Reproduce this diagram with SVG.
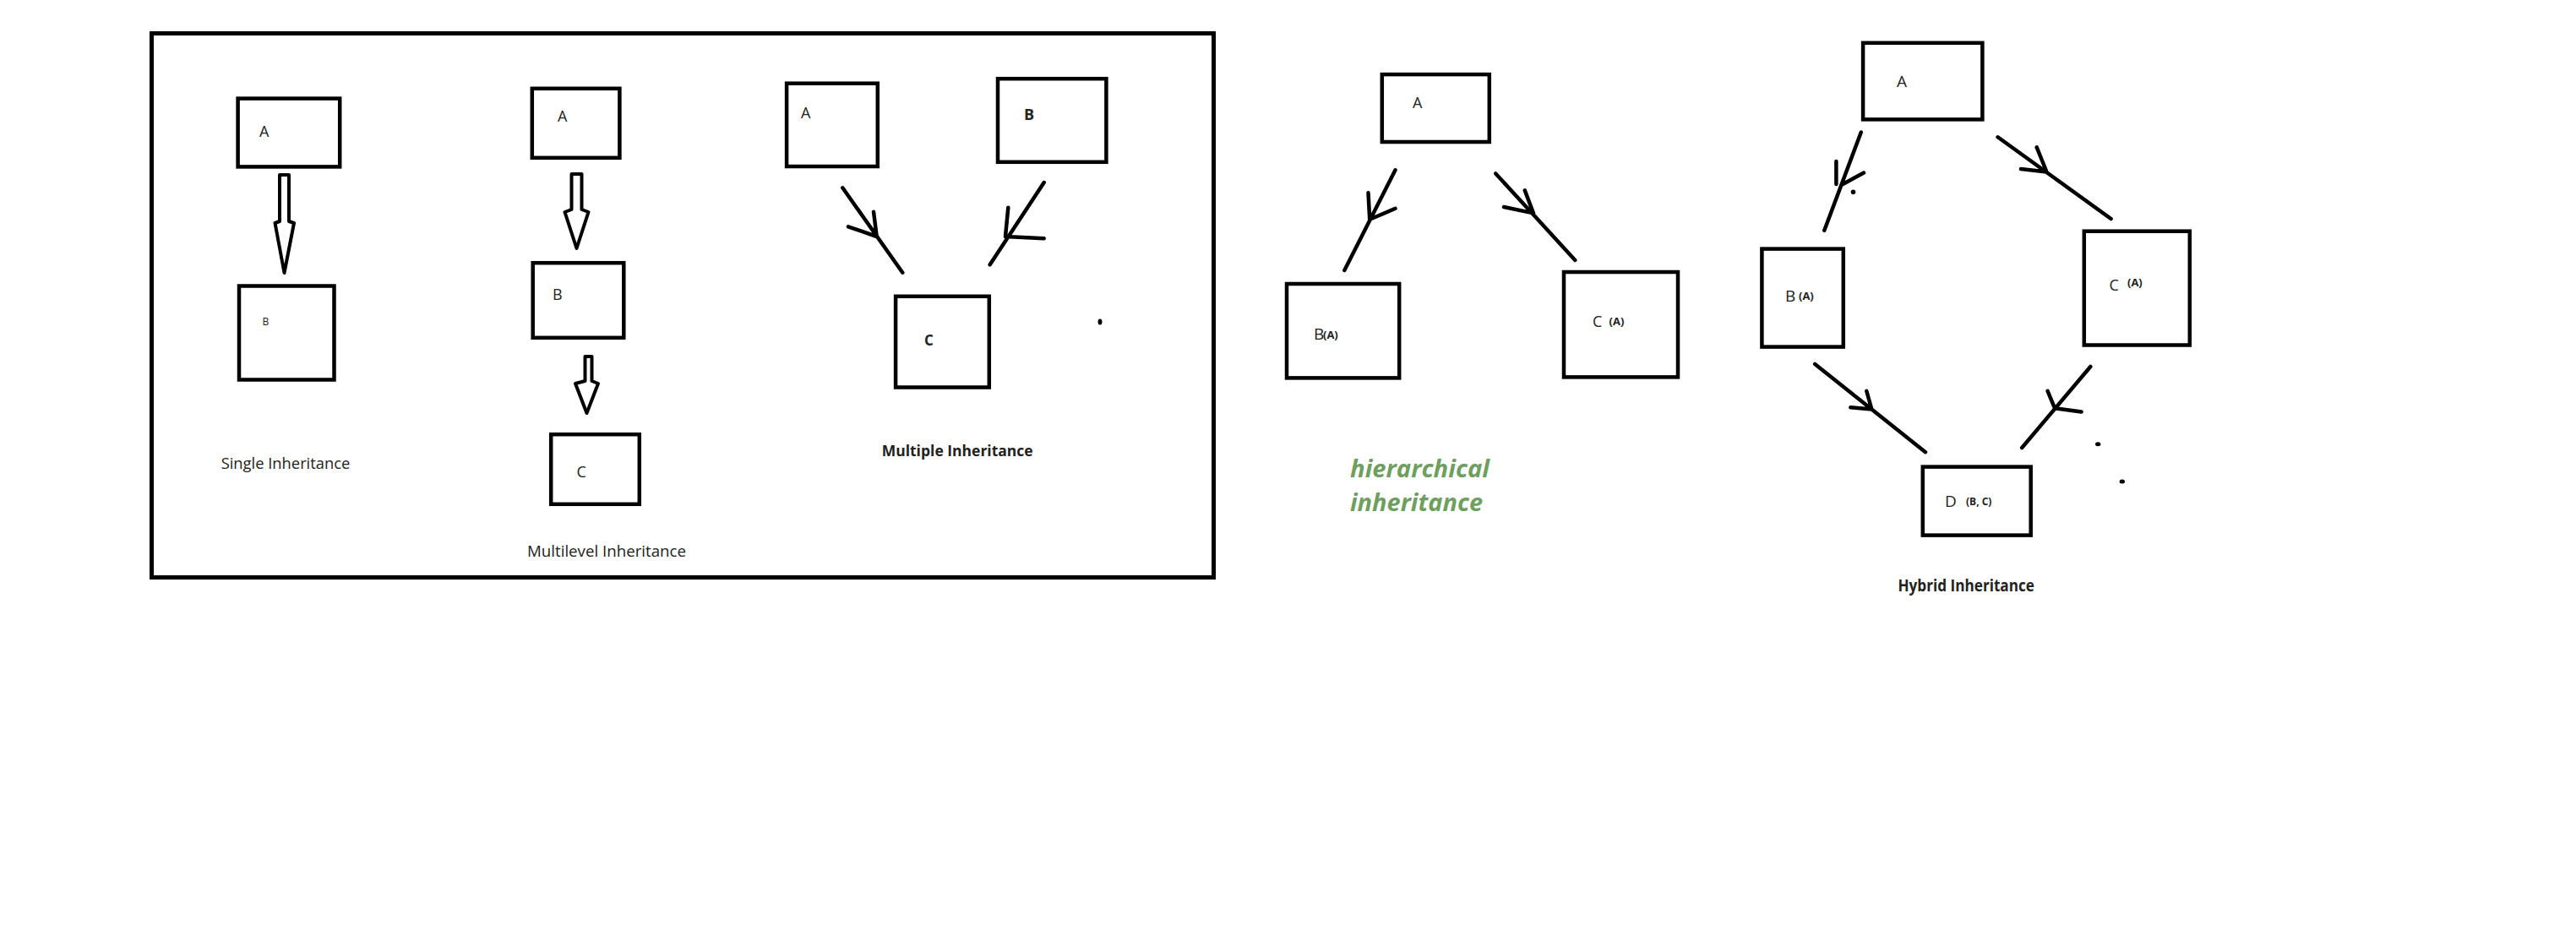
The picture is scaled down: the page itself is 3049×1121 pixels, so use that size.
<svg xmlns="http://www.w3.org/2000/svg" width="3049" height="1121" viewBox="0 0 3049 1121">
<style>
.box{fill:none;stroke:#000;stroke-width:4.5}
.frame{fill:none;stroke:#000;stroke-width:5}
.ln{fill:none;stroke:#000;stroke-width:4.5;stroke-linecap:round;stroke-linejoin:round}
.hollow{fill:#fff;stroke:#000;stroke-width:4;stroke-linejoin:round}
.t{font-family:"Open Sans","Noto Sans","Liberation Sans",sans-serif;fill:#222}
.b{font-weight:bold}
.big{font-size:18px}
.cap{font-size:19px}
.sm{font-size:13px;font-weight:bold}
.green{font-family:"Open Sans","Noto Sans","Liberation Sans",sans-serif;font-weight:bold;font-style:italic;font-size:28px;fill:#6e9f5f}
</style>
<rect width="3049" height="1121" fill="#fff"/>
<rect id="frame" class="frame" x="179.5" y="39.5" width="1257" height="644"/>

<g id="connectors">
  <polygon class="hollow" points="331,207 342,207 342,262 348,264 336.5,323 325.5,264 331,262"/>
  <polygon class="hollow" points="676.5,206 688.5,206 688.5,248 696.5,251 682.5,294 668.5,251 676.5,248"/>
  <polygon class="hollow" points="692.5,422 700.5,422 700.5,451 708,454 694.5,489 681,454 692.5,451"/>
  <path class="ln" d="M997.3,222.3 L1068.3,322.7 M1034,250.7 L1037.7,280 L1004,268.3"/>
  <path class="ln" d="M1235.7,216 L1171.7,313.3 M1193.3,245.7 L1190,280 L1235.7,282.3"/>
  <path class="ln" d="M1651.5,201.3 L1591.3,320 M1619.5,228.3 L1621.2,259.8 L1651.5,246.8"/>
  <path class="ln" d="M1770.3,205.4 L1864.3,307.9 M1804.8,225.4 L1815,252.4 L1780,245"/>
  <path class="ln" d="M2202.8,156.5 L2159.3,272.8 M2173.4,191 L2173.4,218 M2206,204.5 L2179.4,219"/>
  <path class="ln" d="M2364.6,162.3 L2498.6,259 M2410.7,174.4 L2422.5,203.5 L2392,200"/>
  <path class="ln" d="M2148.2,431 L2279,535.2 M2209.3,462.8 L2215.4,484.5 L2190.4,482.3"/>
  <path class="ln" d="M2474.3,434 L2393.2,530 M2423.6,462.8 L2432,483.2 L2463.6,487.5"/>
</g>

<g id="marks">
  <ellipse cx="1302" cy="381" rx="2.5" ry="3.5"/>
  <circle cx="2193.5" cy="227.3" r="2.8"/>
  <ellipse cx="2483.2" cy="525.7" rx="3.2" ry="2.5"/>
  <ellipse cx="2511.8" cy="569.9" rx="3.2" ry="2.5"/>
</g>

<g id="single-A"><rect class="box" x="281.6" y="116.6" width="120.6" height="80.8"/><text class="t big" x="307" y="162">A</text></g>
<g id="single-B"><rect class="box" x="283" y="338.5" width="112.5" height="111"/><text class="t" font-size="12" x="310.6" y="385">B</text></g>
<text class="t cap" x="261.7" y="555" textLength="152.6" lengthAdjust="spacingAndGlyphs">Single Inheritance</text>

<g id="multilevel-A"><rect class="box" x="629.8" y="104.8" width="103.6" height="82"/><text class="t big" x="660" y="144">A</text></g>
<g id="multilevel-B"><rect class="box" x="630.7" y="311.2" width="107.6" height="88.6"/><text class="t big" x="654" y="355">B</text></g>
<g id="multilevel-C"><rect class="box" x="652.2" y="514.2" width="104.6" height="82.6"/><text class="t big" x="682.5" y="565">C</text></g>
<text class="t cap" x="624" y="659" textLength="188" lengthAdjust="spacingAndGlyphs">Multilevel Inheritance</text>

<g id="multiple-A"><rect class="box" x="931.1" y="98.7" width="107.7" height="98.3"/><text class="t big" x="948" y="140">A</text></g>
<g id="multiple-B"><rect class="box" x="1181" y="93.2" width="128.4" height="98.6"/><text class="t big b" x="1212" y="141.5">B</text></g>
<g id="multiple-C"><rect class="box" x="1060.1" y="350.8" width="110.7" height="107.7"/><text class="t b" font-size="17" x="1094" y="409">C</text></g>
<text class="t b" font-size="18" x="1043.7" y="540" textLength="179" lengthAdjust="spacingAndGlyphs">Multiple Inheritance</text>

<g id="hier-A"><rect class="box" x="1635.8" y="88.1" width="127" height="79.9"/><text class="t big" x="1672" y="128.4">A</text></g>
<g id="hier-B"><rect class="box" x="1523" y="336" width="133.2" height="111.4"/><text class="t cap" x="1555" y="402">B<tspan class="sm" x="1566" y="401">(A)</tspan></text></g>
<g id="hier-C"><rect class="box" x="1851" y="322" width="135" height="124.4"/><text class="t big" x="1885" y="387.4">C<tspan class="sm" x="1904.6" y="385">(A)</tspan></text></g>
<text class="green" x="1598" y="565" textLength="165" lengthAdjust="spacingAndGlyphs">hierarchical</text>
<text class="green" x="1598" y="605" textLength="157" lengthAdjust="spacingAndGlyphs">inheritance</text>

<g id="hybrid-A"><rect class="box" x="2205.1" y="50.8" width="141.3" height="90.6"/><text class="t cap" x="2245" y="103">A</text></g>
<g id="hybrid-B"><rect class="box" x="2085.4" y="294.6" width="96.4" height="116"/><text class="t cap" x="2113" y="357.4">B<tspan class="sm" x="2129" y="355">(A)</tspan></text></g>
<g id="hybrid-C"><rect class="box" x="2466.8" y="273.7" width="125" height="134.8"/><text class="t big" x="2496.4" y="344">C<tspan class="sm" x="2518" y="339">(A)</tspan></text></g>
<g id="hybrid-D"><rect class="box" x="2275.8" y="552.6" width="127.9" height="81"/><text class="t cap" x="2302" y="600">D<tspan class="t b" font-size="12" x="2327" y="598">(B, C)</tspan></text></g>
<text class="t b" font-size="19" x="2246.4" y="700" textLength="161.6" lengthAdjust="spacingAndGlyphs">Hybrid Inheritance</text>
</svg>
